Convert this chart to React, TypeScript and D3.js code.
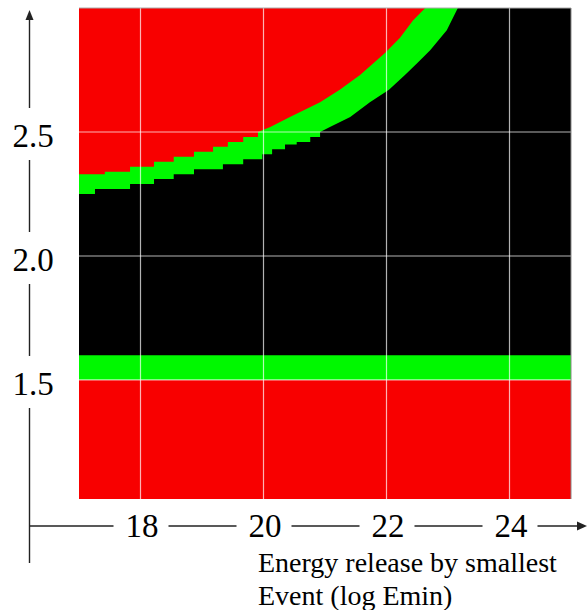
import React from "react";
import * as d3 from "d3";

// x: log Emin, y: exponent
const xDomain = [17, 25];
const yDomain = [1.02, 3.0];
const xTicks = [18, 20, 22, 24];
const xTickLabels = ["18", "20", "22", "24"];
const yTicks = [1.5, 2.0, 2.5];
const yTickLabels = ["1.5", "2.0", "2.5"];
const titleLines = ["Energy release by smallest", "Event (log Emin)"];

// horizontal green band (bottom / top)
const bandBottom = 1.5;
const bandTop = 1.6;

// red / green boundary of the upper green band
const upperEdge: [number, number][] = [
  [17.0, 2.33], [17.42, 2.33], [17.42, 2.34], [17.83, 2.34], [17.83, 2.36],
  [18.22, 2.36], [18.22, 2.38], [18.54, 2.38], [18.54, 2.4], [18.87, 2.4],
  [18.87, 2.42], [19.18, 2.42], [19.18, 2.44], [19.42, 2.44], [19.42, 2.46],
  [19.67, 2.46], [19.67, 2.48], [19.91, 2.48], [19.91, 2.5], [20.11, 2.52],
  [20.43, 2.56], [20.92, 2.62], [21.24, 2.67], [21.57, 2.73], [21.98, 2.82],
  [22.22, 2.88], [22.43, 2.95], [22.63, 3.0],
];

// green / black boundary of the upper green band
const lowerEdge: [number, number][] = [
  [17.0, 2.25], [17.26, 2.25], [17.26, 2.27], [17.83, 2.27], [17.83, 2.29],
  [18.22, 2.29], [18.22, 2.31], [18.54, 2.31], [18.54, 2.33], [18.87, 2.33],
  [18.87, 2.35], [19.34, 2.35], [19.34, 2.37], [19.67, 2.37], [19.67, 2.39],
  [19.98, 2.39], [19.98, 2.41], [20.14, 2.41], [20.14, 2.43], [20.35, 2.43],
  [20.35, 2.45], [20.54, 2.45], [20.54, 2.46], [20.76, 2.46], [20.76, 2.48],
  [20.92, 2.48], [20.92, 2.5], [21.08, 2.52], [21.41, 2.56], [21.73, 2.62],
  [22.04, 2.67], [22.3, 2.73], [22.51, 2.78], [22.71, 2.83], [22.98, 2.91],
  [23.16, 3.0],
];

const RED = "#f80000";
const GREEN = "#00f800";
const BLACK = "#000000";
const FONT = "'Liberation Serif', 'Times New Roman', serif";

export default function App() {
  const x = d3.scaleLinear().domain(xDomain).range([79, 571]);
  const y = d3.scaleLinear().domain(yDomain).range([499, 8]);
  const [x0, x1] = x.range();
  const [yb, yt] = y.range();

  const greenPts = [...upperEdge, [xDomain[1], yDomain[1]] as [number, number]];
  const blackPts = [...lowerEdge, [xDomain[1], yDomain[1]] as [number, number]];

  const greenArea = d3
    .area<[number, number]>()
    .x((d) => x(d[0]))
    .y0(y(bandBottom))
    .y1((d) => y(d[1]));
  const blackArea = d3
    .area<[number, number]>()
    .x((d) => x(d[0]))
    .y0(y(bandTop))
    .y1((d) => y(d[1]));

  const axisX = 29.5;
  const axisY = 526;
  const axisColor = "#222";

  // vertical axis segments with gaps around labels
  const vGaps = yTicks.map((v) => [y(v) - 24, y(v) + 28]).sort((a, b) => a[0] - b[0]);
  const vSegs: [number, number][] = [];
  let start = 18;
  vGaps.forEach(([a, b]) => {
    vSegs.push([start, a]);
    start = b;
  });
  vSegs.push([start, 563]);

  const hGaps = xTicks.map((v) => [x(v) - 27, x(v) + 28]);
  const hSegs: [number, number][] = [];
  let hs = axisX;
  hGaps.forEach(([a, b]) => {
    hSegs.push([hs, a]);
    hs = b;
  });
  hSegs.push([hs, 578]);

  return (
    <div style={{ position: "absolute", left: 0, top: 0 }}>
      <svg width={588} height={610} style={{ display: "block", background: "#fff" }}>
        <rect x={x0} y={yt} width={x1 - x0} height={yb - yt} fill={RED} />
        <path d={greenArea(greenPts) || ""} fill={GREEN} />
        <path d={blackArea(blackPts) || ""} fill={BLACK} />
        {xTicks.map((t) => (
          <line key={"gx" + t} x1={x(t)} x2={x(t)} y1={yt} y2={yb} stroke="#fff" strokeOpacity={0.7} strokeWidth={1.2} />
        ))}
        {yTicks.map((t) => (
          <line key={"gy" + t} x1={x0} x2={x1} y1={y(t)} y2={y(t)} stroke="#fff" strokeOpacity={0.7} strokeWidth={1.2} />
        ))}
        <line x1={x0} x2={x1} y1={yt} y2={yt} stroke="#aaa" strokeWidth={1} />
        <line x1={x1} x2={x1} y1={yt} y2={yb} stroke="#888" strokeWidth={1} />

        {/* vertical axis */}
        {vSegs.map(([a, b], i) => (
          <line key={"vs" + i} x1={axisX} x2={axisX} y1={a} y2={b} stroke={axisColor} strokeWidth={1.4} />
        ))}
        <path d={`M${axisX},10 L${axisX - 4},20 L${axisX + 4},20 Z`} fill={axisColor} />
        {yTicks.map((t, i) => (
          <text key={"yl" + t} x={33} y={y(t) + 15} textAnchor="middle" fontFamily={FONT} fontSize={33} fill="#000">
            {yTickLabels[i]}
          </text>
        ))}

        {/* horizontal axis */}
        {hSegs.map(([a, b], i) => (
          <line key={"hs" + i} x1={a} x2={b} y1={axisY} y2={axisY} stroke={axisColor} strokeWidth={1.4} />
        ))}
        <path d={`M587,${axisY} L577,${axisY - 4.5} L577,${axisY + 4.5} Z`} fill={axisColor} />
        {xTicks.map((t, i) => (
          <text key={"xl" + t} x={x(t) + 1.5} y={537} textAnchor="middle" fontFamily={FONT} fontSize={33} fill="#000">
            {xTickLabels[i]}
          </text>
        ))}
        {titleLines.map((s, i) => (
          <text key={"tt" + i} x={258} y={572 + i * 33} fontFamily={FONT} fontSize={28} fill="#000">
            {s}
          </text>
        ))}
      </svg>
    </div>
  );
}
